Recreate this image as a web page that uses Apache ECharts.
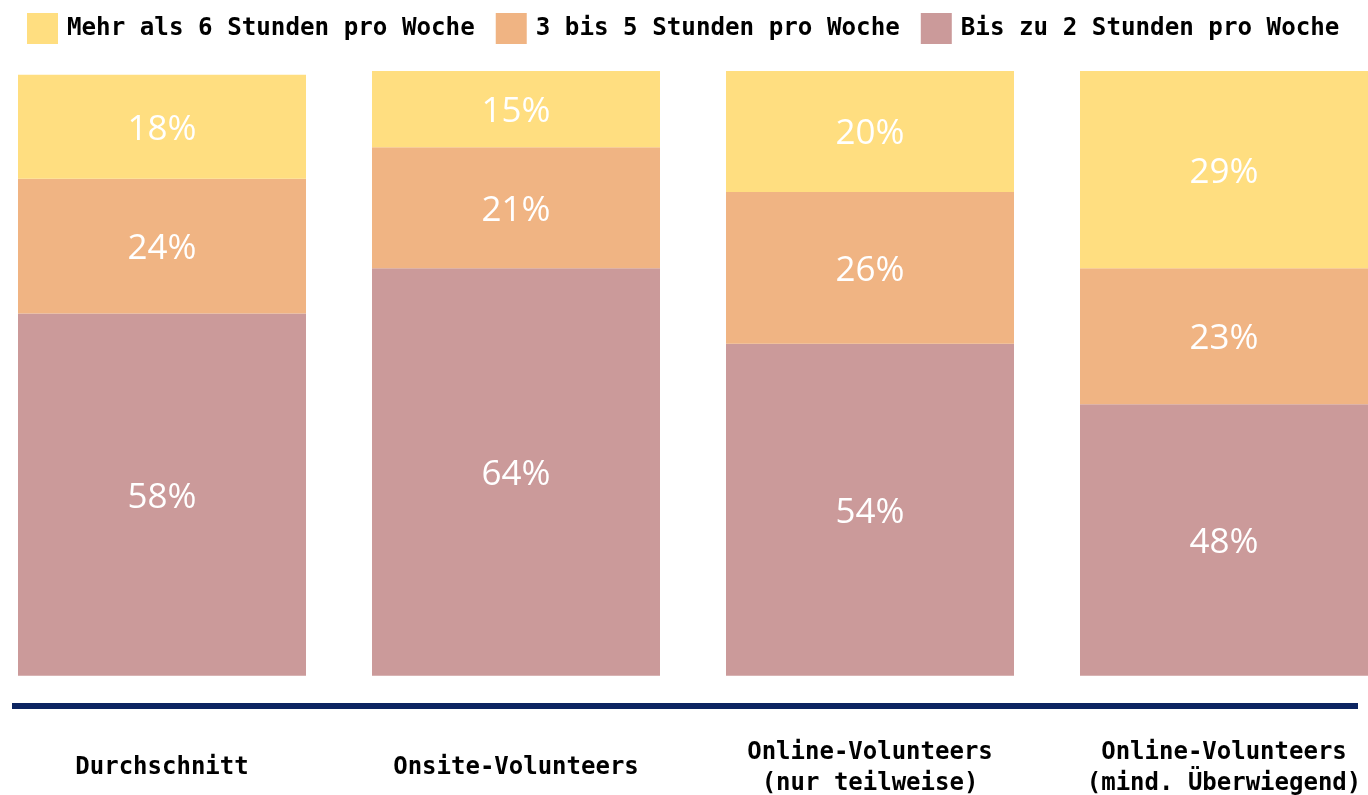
<!DOCTYPE html>
<html>
<head>
<meta charset="utf-8">
<script src="https://cdn.jsdelivr.net/npm/echarts@6/dist/echarts.min.js"></script>
<style>
  html, body { margin: 0; padding: 0; background: #fff; }
  #chart { width: 1368px; height: 795px; }
</style>
</head>
<body>
<div id="chart"></div>
<script>
// categories (x axis)
const categories = [
  'Durchschnitt',
  'Onsite-Volunteers',
  'Online-Volunteers\n(nur teilweise)',
  'Online-Volunteers\n(mind. Überwiegend)'
]
const seriesNames = ['Mehr als 6 Stunden pro Woche', '3 bis 5 Stunden pro Woche', 'Bis zu 2 Stunden pro Woche']

// segment heights
const bis2Values = [59.9, 67.4, 54.9, 44.9]
const drei5Values = [22.3, 20.0, 25.1, 22.5]
const mehr6Values = [17.2, 12.6, 20.0, 32.6]

// percentages printed on the segments
const bis2Labels = [58, 64, 54, 48]
const drei5Labels = [24, 21, 26, 23]
const mehr6Labels = [18, 15, 20, 29]

const monoFont = "'DejaVu Sans Mono', 'Liberation Mono', monospace"

function segment(name, values, labels, color) {
  return {
    name: name,
    type: 'bar',
    stack: 'total',
    barWidth: 288,
    itemStyle: { color: color },
    label: {
      show: true,
      position: 'inside',
      offset: [0, 3],
      color: '#fff',
      fontFamily: "'Open Sans', sans-serif",
      fontSize: 35,
      formatter: p => labels[p.dataIndex] + '%'
    },
    data: values
  }
}

let myChart = echarts.init(document.getElementById('chart'))
myChart.setOption({
  animation: false,
  legend: {
    data: seriesNames,
    left: 22,
    top: 8,
    icon: 'rect',
    itemWidth: 31,
    itemHeight: 31,
    itemGap: 21,
    textStyle: {
      fontFamily: monoFont,
      fontWeight: 'bold',
      fontSize: 24.2,
      color: '#000',
      padding: [0, 0, 0, 4]
    }
  },
  grid: {
    left: -15,
    right: -33,
    top: 71,
    bottom: 89,
    outerBoundsMode: 'none'
  },
  xAxis: {
    type: 'category',
    data: categories,
    axisLine: { show: false },
    axisTick: { show: false },
    axisLabel: {
      interval: 0,
      margin: 62,
      verticalAlign: 'middle',
      lineHeight: 31,
      fontFamily: monoFont,
      fontWeight: 'bold',
      fontSize: 24,
      color: '#000'
    }
  },
  yAxis: {
    type: 'value',
    min: -5,
    max: 100,
    show: false
  },
  graphic: [
    {
      type: 'line',
      shape: { x1: 12, y1: 706, x2: 1358, y2: 706 },
      style: { stroke: '#0c2461', lineWidth: 6 }
    }
  ],
  series: [
    segment(seriesNames[2], bis2Values, bis2Labels, '#cb9a9a'),
    segment(seriesNames[1], drei5Values, drei5Labels, '#f0b483'),
    segment(seriesNames[0], mehr6Values, mehr6Labels, '#ffde80')
  ]
})
</script>
</body>
</html>
